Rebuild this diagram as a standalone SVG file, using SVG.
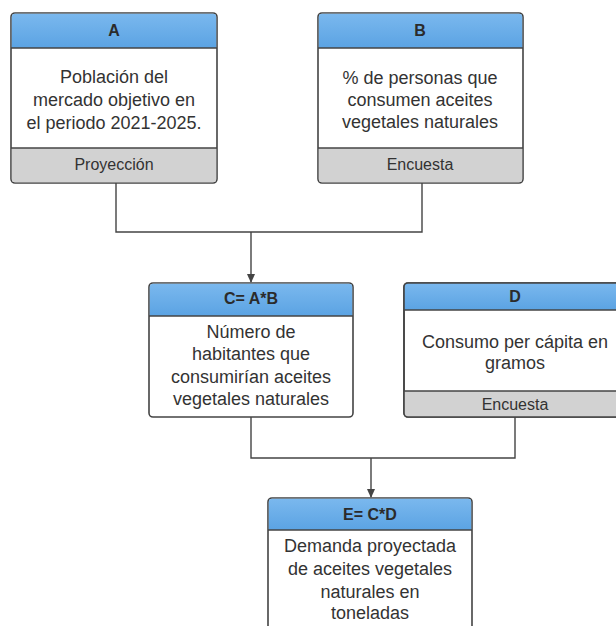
<svg xmlns="http://www.w3.org/2000/svg" width="616" height="626" viewBox="0 0 616 626">
<defs>
<linearGradient id="hdr" x1="0" y1="0" x2="0" y2="1">
<stop offset="0" stop-color="#7ab8ee"/>
<stop offset="1" stop-color="#5ba3e3"/>
</linearGradient>
<marker id="arr" markerWidth="10" markerHeight="10" refX="8" refY="5" orient="auto" markerUnits="userSpaceOnUse">
<path d="M0,1 L9,5 L0,9 Z" fill="#444"/>
</marker>
<clipPath id="cpD"><rect x="404" y="283" width="222" height="134" rx="4"/></clipPath>
</defs>
<style>
.box{fill:#fff;stroke:#444;stroke-width:1.6}
.hd{fill:url(#hdr)}
.ft{fill:#d2d2d2}
.sep{stroke:#444;stroke-width:1.4}
.ht{font-family:"Liberation Sans",Arial,sans-serif;font-size:16px;font-weight:bold;fill:#2b2b2b;text-anchor:middle}
.bt{font-family:"Liberation Sans",Arial,sans-serif;font-size:18px;fill:#333;text-anchor:middle}
.fx{font-family:"Liberation Sans",Arial,sans-serif;font-size:16px;fill:#333;text-anchor:middle}
.ln{fill:none;stroke:#444;stroke-width:1.4}
</style>
<rect width="616" height="626" fill="#fff"/>
<g id="connectors">
<path class="ln" d="M116,183 V232 H422 V183"/>
<path class="ln" d="M251,232 V282" marker-end="url(#arr)"/>
<path class="ln" d="M251,417 V458 H515 V417"/>
<path class="ln" d="M371,458 V497" marker-end="url(#arr)"/>
</g>
<g id="A">
<rect class="box" x="11" y="13" width="206" height="170" rx="4"/>
<path class="hd" d="M15,13.8 H213 Q216.2,13.8 216.2,17 V48 H11.8 V17 Q11.8,13.8 15,13.8 Z"/>
<path class="ft" d="M11.8,148 H216.2 V179 Q216.2,182.2 213,182.2 H15 Q11.8,182.2 11.8,179 Z"/>
<line class="sep" x1="11" y1="48" x2="217" y2="48"/>
<line class="sep" x1="11" y1="148" x2="217" y2="148"/>
<text class="ht" x="114" y="36">A</text>
<text class="bt" x="114" y="83">Población del</text>
<text class="bt" x="114" y="106">mercado objetivo en</text>
<text class="bt" x="114" y="129">el periodo 2021-2025.</text>
<text class="fx" x="114" y="170">Proyección</text>
</g>
<g id="B">
<rect class="box" x="318" y="13" width="205" height="170" rx="4"/>
<path class="hd" d="M322,13.8 H519 Q522.2,13.8 522.2,17 V48 H318.8 V17 Q318.8,13.8 322,13.8 Z"/>
<path class="ft" d="M318.8,148 H522.2 V179 Q522.2,182.2 519,182.2 H322 Q318.8,182.2 318.8,179 Z"/>
<line class="sep" x1="318" y1="48" x2="523" y2="48"/>
<line class="sep" x1="318" y1="148" x2="523" y2="148"/>
<text class="ht" x="420" y="36">B</text>
<text class="bt" x="420" y="84">% de personas que</text>
<text class="bt" x="420" y="106">consumen aceites</text>
<text class="bt" x="420" y="128">vegetales naturales</text>
<text class="fx" x="420" y="170">Encuesta</text>
</g>
<g id="C">
<rect class="box" x="149" y="283" width="204" height="134" rx="4"/>
<path class="hd" d="M153,283.8 H349 Q352.2,283.8 352.2,287 V316 H149.8 V287 Q149.8,283.8 153,283.8 Z"/>
<line class="sep" x1="149" y1="316" x2="353" y2="316"/>
<text class="ht" x="251" y="304">C= A*B</text>
<text class="bt" x="251" y="338">Número de</text>
<text class="bt" x="251" y="360">habitantes que</text>
<text class="bt" x="251" y="383">consumirían aceites</text>
<text class="bt" x="251" y="405">vegetales naturales</text>
</g>
<g id="D">
<rect class="box" x="404" y="283" width="222" height="134" rx="4"/>
<g clip-path="url(#cpD)">
<rect class="hd" x="404" y="283" width="222" height="27"/>
<rect class="ft" x="404" y="391" width="222" height="26"/>
</g>
<rect x="404" y="283" width="222" height="134" rx="4" fill="none" stroke="#444" stroke-width="1.6"/>
<line class="sep" x1="404" y1="310" x2="626" y2="310"/>
<line class="sep" x1="404" y1="391" x2="626" y2="391"/>
<text class="ht" x="515" y="302">D</text>
<text class="bt" x="515" y="348">Consumo per cápita en</text>
<text class="bt" x="515" y="369">gramos</text>
<text class="fx" x="515" y="410">Encuesta</text>
</g>
<g id="E">
<rect class="box" x="268" y="498" width="204" height="140" rx="4"/>
<path class="hd" d="M272,498.8 H468 Q471.2,498.8 471.2,502 V530 H268.8 V502 Q268.8,498.8 272,498.8 Z"/>
<line class="sep" x1="268" y1="530" x2="472" y2="530"/>
<text class="ht" x="370" y="520">E= C*D</text>
<text class="bt" x="370" y="552">Demanda proyectada</text>
<text class="bt" x="370" y="575">de aceites vegetales</text>
<text class="bt" x="370" y="598">naturales en</text>
<text class="bt" x="370" y="619">toneladas</text>
</g>
</svg>
